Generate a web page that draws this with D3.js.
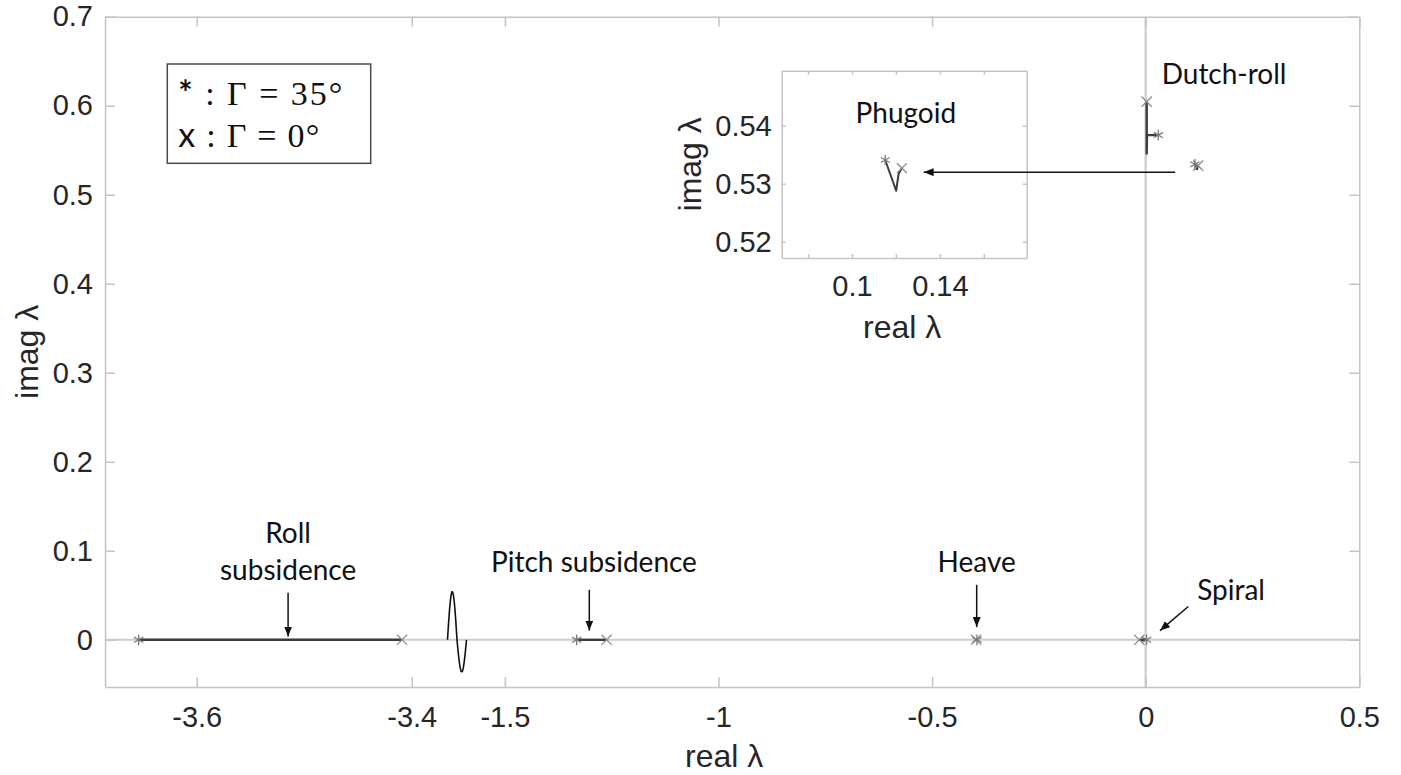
<!DOCTYPE html>
<html>
<head>
<meta charset="utf-8">
<script src="https://cdn.jsdelivr.net/npm/d3@7"></script>
<style>
  body { margin: 0; background: #fff; }
  svg { display: block; }
</style>
</head>
<body>
<svg id="chart" width="1401" height="775"></svg>
<script>
// Eigenvalue loci while the dihedral angle Γ grows from 0° (first point, "x")
// to 35° (last point, "*"). Real and imaginary parts per mode.
const rollRe    = [-3.409, -3.654];
const rollIm    = [0, 0];
const pitchRe   = [-1.262, -1.332];
const pitchIm   = [0, 0];
const heaveRe   = [-0.397, -0.395];
const heaveIm   = [0, 0];
const spiralRe  = [-0.015, 0.002];
const spiralIm  = [0, 0];
const dutchRe   = [0.0023, 0.0023, 0.0030, 0.0295];
const dutchIm   = [0.6046, 0.5463, 0.5670, 0.5670];
const phugoidRe = [0.1227, 0.1212, 0.1201, 0.1151];
const phugoidIm = [0.5327, 0.5317, 0.5288, 0.5341];

// axis ticks
const xTickValues = [-3.6, -3.4, -1.5, -1, -0.5, 0, 0.5];
const yTickValues = [0, 0.1, 0.2, 0.3, 0.4, 0.5, 0.6, 0.7];
const insetXTicks = [0.08, 0.10, 0.12, 0.14, 0.16];
const insetXTickLabels = ["", "0.1", "", "0.14", ""];
const insetYTicks = [0.52, 0.53, 0.54];

// legend entries
const legendSymbols = ["*", "x"];
const legendAngles = [35, 0];

const toPoints = (re, im) => re.map((r, i) => ({ re: r, im: im[i] }));
const rollPts    = toPoints(rollRe, rollIm);
const pitchPts   = toPoints(pitchRe, pitchIm);
const heavePts   = toPoints(heaveRe, heaveIm);
const spiralPts  = toPoints(spiralRe, spiralIm);
const dutchPts   = toPoints(dutchRe, dutchIm);
const phugoidPts = toPoints(phugoidRe, phugoidIm);
const allModes = [rollPts, pitchPts, heavePts, spiralPts, dutchPts, phugoidPts];

const svg = d3.select("#chart");
const tickFont = "'Liberation Sans', Arial, Helvetica, sans-serif";
const noteFont = "Lato, 'Open Sans', sans-serif";
const textColor = "#262626";
const boxColor = "#c4c4c4";

// ---------- main axes (broken real axis) ----------
const plot = { left: 105, right: 1359.3, top: 16.7, bottom: 687 };
const breakPx = 457;
const xScale = d3.scaleLinear()
  .domain([-3.6853, -3.3579, -1.6121, 0.5])
  .range([plot.left, breakPx, breakPx, plot.right]);
const yScale = d3.scaleLinear()
  .domain([-0.053, 0.7])
  .range([plot.bottom, plot.top]);

const fmt = d => String(d);

const defs = svg.append("defs");
defs.append("marker")
  .attr("id", "head")
  .attr("viewBox", "0 0 10 8")
  .attr("refX", 10).attr("refY", 4)
  .attr("markerWidth", 10).attr("markerHeight", 8)
  .attr("markerUnits", "userSpaceOnUse")
  .attr("orient", "auto")
  .append("path").attr("d", "M0,0L10,4L0,8Z").attr("fill", "#111");

svg.append("rect")
  .attr("x", plot.left).attr("y", plot.top)
  .attr("width", plot.right - plot.left).attr("height", plot.bottom - plot.top)
  .attr("fill", "#fff");

// zero reference lines
svg.append("line")
  .attr("x1", plot.left).attr("x2", plot.right)
  .attr("y1", yScale(0)).attr("y2", yScale(0))
  .attr("stroke", "#cdcdcd").attr("stroke-width", 2);
svg.append("line")
  .attr("x1", xScale(0)).attr("x2", xScale(0))
  .attr("y1", plot.top).attr("y2", plot.bottom)
  .attr("stroke", "#d2d2d2").attr("stroke-width", 2.5);

function styleAxis(g, fontSize) {
  g.select(".domain").attr("stroke", boxColor).attr("stroke-width", 1.5);
  g.selectAll(".tick line").attr("stroke", boxColor).attr("stroke-width", 1.5);
  g.selectAll(".tick text")
    .attr("fill", textColor)
    .style("font-family", tickFont)
    .style("font-size", fontSize + "px");
}

function drawBox(xs, ys, box, xt, yt, xLabels, tickLen, fontSize, xPad, yPad) {
  const gB = svg.append("g").attr("transform", `translate(0,${box.bottom})`)
    .call(d3.axisBottom(xs).tickValues(xt).tickSizeInner(-tickLen).tickSizeOuter(0)
      .tickPadding(xPad).tickFormat((d, i) => xLabels ? xLabels[i] : fmt(d)));
  styleAxis(gB, fontSize);
  const gT = svg.append("g").attr("transform", `translate(0,${box.top})`)
    .call(d3.axisTop(xs).tickValues(xt).tickSizeInner(-tickLen).tickSizeOuter(0).tickFormat(""));
  styleAxis(gT, fontSize);
  const gL = svg.append("g").attr("transform", `translate(${box.left},0)`)
    .call(d3.axisLeft(ys).tickValues(yt).tickSizeInner(-tickLen).tickSizeOuter(0)
      .tickPadding(yPad).tickFormat(fmt));
  styleAxis(gL, fontSize);
  const gR = svg.append("g").attr("transform", `translate(${box.right},0)`)
    .call(d3.axisRight(ys).tickValues(yt).tickSizeInner(-tickLen).tickSizeOuter(0).tickFormat(""));
  styleAxis(gR, fontSize);
}

drawBox(xScale, yScale, plot, xTickValues, yTickValues, null, 10, 29, 19, 12);

// axis titles
svg.append("text")
  .attr("x", (plot.left + plot.right) / 2 - 8).attr("y", 767)
  .attr("text-anchor", "middle")
  .attr("fill", textColor)
  .style("font-family", tickFont).style("font-size", "32px")
  .text("real λ");
svg.append("text")
  .attr("transform", `translate(38,${(plot.top + plot.bottom) / 2}) rotate(-90)`)
  .attr("text-anchor", "middle")
  .attr("fill", textColor)
  .style("font-family", tickFont).style("font-size", "32px")
  .text("imag λ");

// axis-break glyph on the real axis
const breakWave = d3.range(0, 1.0001, 0.02).map(t => {
  const s = Math.sin(2 * Math.PI * t);
  const amp = s > 0 ? 48 : 32;
  return [breakPx - 9.5 + 19 * t, yScale(0) - amp * s];
});
svg.append("path")
  .attr("d", d3.line()(breakWave))
  .attr("fill", "none").attr("stroke", "#111").attr("stroke-width", 1.6);

// ---------- loci ----------
function drawLoci(modes, xs, ys, lineWidth, markerScale) {
  const line = d3.line().x(d => xs(d.re)).y(d => ys(d.im));
  const g = svg.append("g");
  modes.forEach(pts => {
    g.append("path")
      .attr("d", line(pts))
      .attr("fill", "none")
      .attr("stroke", "#3c3c3c")
      .attr("stroke-width", lineWidth)
      .attr("stroke-linejoin", "round");
    const first = pts[0], last = pts[pts.length - 1];
    g.append("path")
      .attr("d", d3.symbol(d3.symbolTimes, 70 * markerScale)())
      .attr("transform", `translate(${xs(first.re)},${ys(first.im)})`)
      .attr("fill", "none").attr("stroke", "#8a8a8a").attr("stroke-width", 1.2);
    g.append("path")
      .attr("d", d3.symbol(d3.symbolAsterisk, 80 * markerScale)())
      .attr("transform", `translate(${xs(last.re)},${ys(last.im)})`)
      .attr("fill", "none").attr("stroke", "#7a7a7a").attr("stroke-width", 1.3);
  });
}
drawLoci(allModes, xScale, yScale, 2.4, 1);

// ---------- phugoid close-up ----------
const inset = { left: 781.7, right: 1026.7, top: 70.7, bottom: 258 };
const ixScale = d3.scaleLinear().domain([0.068, 0.1795]).range([inset.left, inset.right]);
const iyScale = d3.scaleLinear().domain([0.5172, 0.5495]).range([inset.bottom, inset.top]);

svg.append("rect")
  .attr("x", inset.left).attr("y", inset.top)
  .attr("width", inset.right - inset.left).attr("height", inset.bottom - inset.top)
  .attr("fill", "#fff");
drawBox(ixScale, iyScale, inset, insetXTicks, insetYTicks, insetXTickLabels, 4, 29, 17, 10);
drawLoci([phugoidPts], ixScale, iyScale, 2, 0.9);

svg.append("text")
  .attr("x", (inset.left + inset.right) / 2 - 2).attr("y", 338)
  .attr("text-anchor", "middle").attr("fill", textColor)
  .style("font-family", tickFont).style("font-size", "32px")
  .text("real λ");
svg.append("text")
  .attr("transform", `translate(701,${(inset.top + inset.bottom) / 2}) rotate(-90)`)
  .attr("text-anchor", "middle").attr("fill", textColor)
  .style("font-family", tickFont).style("font-size", "32px")
  .text("imag λ");

// ---------- mode annotations ----------
function note(x, y, lines, anchor) {
  const t = svg.append("text")
    .attr("text-anchor", anchor || "middle")
    .attr("fill", "#111")
    .style("font-family", noteFont).style("font-size", "28px");
  lines.forEach((s, i) => t.append("tspan").attr("x", x).attr("y", y + i * 37).text(s));
}
function arrow(x1, y1, x2, y2) {
  svg.append("line")
    .attr("x1", x1).attr("y1", y1).attr("x2", x2).attr("y2", y2)
    .attr("stroke", "#111").attr("stroke-width", 1.5)
    .attr("marker-end", "url(#head)");
}

note(xScale(-3.515), yScale(0.109), ["Roll", "subsidence"]);
arrow(xScale(-3.515), yScale(0.0528), xScale(-3.515), yScale(0.0037));

note(xScale(-1.2914), yScale(0.0767), ["Pitch subsidence"]);
arrow(xScale(-1.3024), yScale(0.0562), xScale(-1.3024), yScale(0.0104));

note(xScale(-0.3956), yScale(0.0767), ["Heave"]);
arrow(xScale(-0.3956), yScale(0.0618), xScale(-0.3956), yScale(0.0143));

note(xScale(0.1998), yScale(0.0449), ["Spiral"]);
arrow(xScale(0.0997), yScale(0.0374), xScale(0.0335), yScale(0.0104));

note(xScale(0.0375), yScale(0.6244), ["Dutch-roll"], "start");

note(ixScale(0.1245), iyScale(0.5404), ["Phugoid"]);
arrow(xScale(0.069), iyScale(0.532), ixScale(0.1326), iyScale(0.532));

// ---------- legend ----------
const legend = { x: 167.3, y: 64, w: 203.4, h: 99.3 };
svg.append("rect")
  .attr("x", legend.x).attr("y", legend.y)
  .attr("width", legend.w).attr("height", legend.h)
  .attr("fill", "#fff").attr("stroke", "#4a4a4a").attr("stroke-width", 1.5);
legendSymbols.forEach((sym, i) => {
  const t = svg.append("text")
    .attr("x", legend.x + 11).attr("y", legend.y + 41 + i * 41.7)
    .attr("fill", "#111")
    .attr("textLength", i === 0 ? 164 : 141)
    .attr("lengthAdjust", "spacing")
    .style("font-size", "34px");
  t.append("tspan").style("font-family", noteFont).style("font-weight", i === 0 ? 700 : 400).text(sym);
  t.append("tspan").style("font-family", "'Liberation Serif', 'DejaVu Serif', serif")
    .text(` : Γ = ${legendAngles[i]}°`);
});
</script>
</body>
</html>
